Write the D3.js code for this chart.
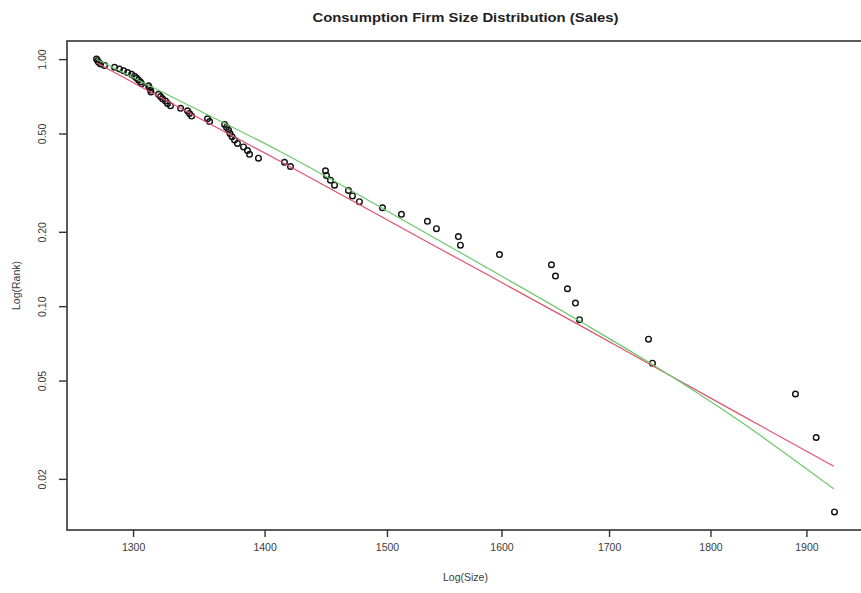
<!DOCTYPE html>
<html>
<head>
<meta charset="utf-8">
<script src="https://cdn.jsdelivr.net/npm/d3@7"></script>
<style>
  html, body { margin: 0; padding: 0; background: #ffffff; }
  svg { display: block; }
</style>
</head>
<body>
<svg id="chart" width="861" height="593"></svg>
<script>
// ---- Data ----
const logSize = [
  1930.3, 1910.5, 1888.3, 1742.1, 1738.2, 1671.9, 1668.1, 1660.6, 1649.4, 1645.7,
  1598.2, 1563.4, 1561.6, 1542.4, 1534.6, 1512.3, 1496.2, 1476.9, 1471.1, 1467.8,
  1456.3, 1453.0, 1449.7, 1448.9, 1420.6, 1415.8, 1395.2, 1388.2, 1386.6, 1383.5,
  1378.8, 1376.5, 1374.6, 1373.0, 1371.9, 1370.3, 1368.8, 1357.3, 1355.7, 1343.6,
  1342.0, 1340.5, 1335.3, 1327.7, 1325.5, 1324.0, 1321.8, 1320.3, 1318.8, 1313.2,
  1312.9, 1312.1, 1311.4, 1306.2, 1305.5, 1304.0, 1302.6, 1301.1, 1298.9, 1296.0,
  1293.1, 1290.1, 1286.5, 1279.3, 1276.4, 1275.0, 1274.3, 1273.5
];
const logRank = [
  0.0147, 0.0294, 0.0441, 0.0588, 0.0735, 0.0882, 0.1029, 0.1176, 0.1324, 0.1471,
  0.1618, 0.1765, 0.1912, 0.2059, 0.2206, 0.2353, 0.2500, 0.2647, 0.2794, 0.2941,
  0.3088, 0.3235, 0.3382, 0.3529, 0.3676, 0.3824, 0.3971, 0.4118, 0.4265, 0.4412,
  0.4559, 0.4706, 0.4853, 0.5000, 0.5147, 0.5294, 0.5441, 0.5588, 0.5735, 0.5882,
  0.6029, 0.6176, 0.6324, 0.6471, 0.6618, 0.6765, 0.6912, 0.7059, 0.7206, 0.7353,
  0.7500, 0.7647, 0.7794, 0.7941, 0.8088, 0.8235, 0.8382, 0.8529, 0.8676, 0.8824,
  0.8971, 0.9118, 0.9265, 0.9412, 0.9559, 0.9706, 0.9853, 1.0000
];
// Fitted curves
const fitX      = [1273.5, 1335.3, 1412.7, 1537.3, 1672.8, 1742.1, 1830.6, 1929.5];
const redFitY   = [0.9661, 0.6324, 0.3853, 0.1790, 0.0834, 0.0574, 0.03640, 0.02248];
const greenFitY = [0.9981, 0.6750, 0.4217, 0.1928, 0.0866, 0.0580, 0.03410, 0.01822];

const xTicks = [1300, 1400, 1500, 1600, 1700, 1800, 1900];
const yTicks = [0.02, 0.05, 0.10, 0.20, 0.50, 1.00];
const yTickLabels = ["0.02", "0.05", "0.10", "0.20", "0.50", "1.00"];

const title = "Consumption Firm Size Distribution (Sales)";
const xLabel = "Log(Size)";
const yLabel = "Log(Rank)";

// ---- Layout ----
const plot = { left: 67, right: 864, top: 41, bottom: 530 };
const svg = d3.select("#chart");
const font = "'Liberation Sans', Arial, sans-serif";

// R-style 4% extension in log space
function logExtend(ext) {
  const l0 = Math.log(ext[0]), l1 = Math.log(ext[1]);
  const d = (l1 - l0) * 0.04;
  return [Math.exp(l0 - d), Math.exp(l1 + d)];
}
const x = d3.scaleLog().domain(logExtend(d3.extent(logSize))).range([plot.left, plot.right]);
const y = d3.scaleLog().domain(logExtend(d3.extent(logRank))).range([plot.bottom, plot.top]);

const axisColor = "#333333";
const textColor = "#3a3a3a";

// Points
const pts = logSize.map((v, i) => ({ x: v, y: logRank[i] }));
svg.append("g").selectAll("circle").data(pts).enter().append("circle")
  .attr("cx", d => x(d.x)).attr("cy", d => y(d.y)).attr("r", 2.8)
  .attr("fill", "none").attr("stroke", "#111").attr("stroke-width", 1.4);

// Fitted lines
const line = d3.line().x(d => x(d[0])).y(d => y(d[1])).curve(d3.curveMonotoneX);
svg.append("path").datum(fitX.map((v, i) => [v, redFitY[i]]))
  .attr("d", line).attr("fill", "none").attr("stroke", "#e0506e").attr("stroke-width", 1.2);
svg.append("path").datum(fitX.map((v, i) => [v, greenFitY[i]]))
  .attr("d", line).attr("fill", "none").attr("stroke", "#6cc86c").attr("stroke-width", 1.2);

// Box
svg.append("rect").attr("x", plot.left).attr("y", plot.top)
  .attr("width", plot.right - plot.left).attr("height", plot.bottom - plot.top)
  .attr("fill", "none").attr("stroke", axisColor).attr("stroke-width", 1.6);

// X axis
const xAxis = d3.axisBottom(x).tickValues(xTicks).tickFormat(d3.format("d")).tickSize(7).tickPadding(7);
const gx = svg.append("g").attr("transform", `translate(0,${plot.bottom})`).call(xAxis);
gx.select(".domain").remove();
gx.selectAll(".tick line").attr("stroke", axisColor).attr("stroke-width", 1.4);
gx.selectAll(".tick text").attr("fill", textColor).attr("font-family", font).attr("font-size", 10.5);

// Y axis
const yAxis = d3.axisLeft(y).tickValues(yTicks).tickFormat((d, i) => yTickLabels[i]).tickSize(8);
const gy = svg.append("g").attr("transform", `translate(${plot.left},0)`).call(yAxis);
gy.select(".domain").remove();
gy.selectAll(".tick line").attr("stroke", axisColor).attr("stroke-width", 1.4);
gy.selectAll(".tick text")
  .attr("fill", textColor).attr("font-family", font).attr("font-size", 10.5)
  .attr("x", null).attr("dy", null)
  .attr("text-anchor", "middle")
  .attr("transform", "translate(-21,0) rotate(-90)")
  .attr("y", 0);

// Title and labels
svg.append("text").attr("x", (plot.left + plot.right) / 2).attr("y", 22)
  .attr("text-anchor", "middle").attr("font-family", font).attr("font-weight", "bold")
  .attr("font-size", 13).attr("fill", "#222").attr("textLength", 306)
  .attr("lengthAdjust", "spacingAndGlyphs").text(title);
svg.append("text").attr("x", (plot.left + plot.right) / 2).attr("y", 581)
  .attr("text-anchor", "middle").attr("font-family", font).attr("font-size", 10.5)
  .attr("fill", textColor).text(xLabel);
svg.append("text").attr("transform", `translate(20,${(plot.top + plot.bottom) / 2}) rotate(-90)`)
  .attr("text-anchor", "middle").attr("font-family", font).attr("font-size", 10.5)
  .attr("fill", textColor).text(yLabel);
</script>
</body>
</html>
